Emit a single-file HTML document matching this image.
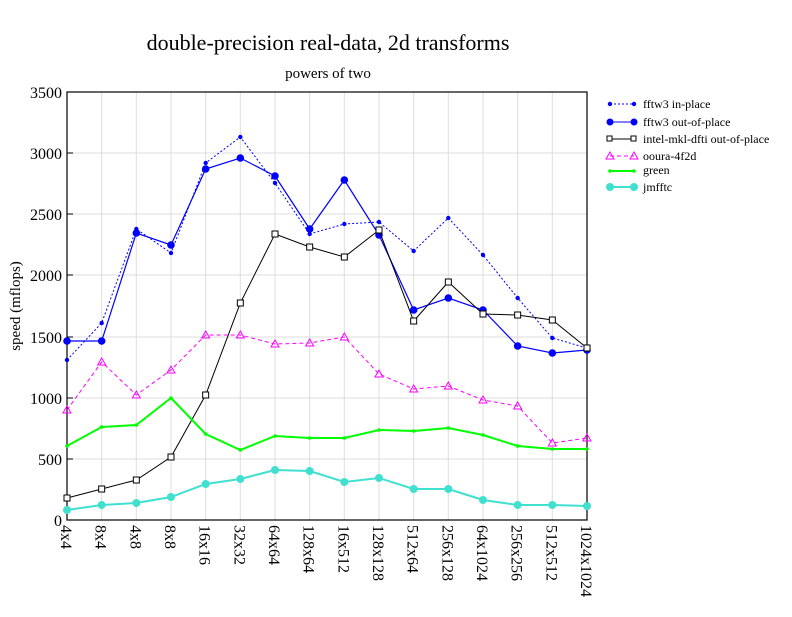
<!DOCTYPE html><html><head><style>body{margin:0;background:#fff}svg{font-family:"Liberation Serif",serif}</style></head><body>
<svg width="792" height="612" xmlns="http://www.w3.org/2000/svg">
<text x="328" y="50" font-size="22" text-anchor="middle">double-precision real-data, 2d transforms</text>
<text x="328" y="78" font-size="15" text-anchor="middle">powers of two</text>
<g stroke="#ddd" stroke-width="1">
<line x1="67" y1="459" x2="587" y2="459"/><line x1="67" y1="398" x2="587" y2="398"/><line x1="67" y1="337" x2="587" y2="337"/><line x1="67" y1="275" x2="587" y2="275"/><line x1="67" y1="214" x2="587" y2="214"/><line x1="67" y1="153" x2="587" y2="153"/>
<line x1="101.7" y1="92" x2="101.7" y2="520"/><line x1="136.3" y1="92" x2="136.3" y2="520"/><line x1="171" y1="92" x2="171" y2="520"/><line x1="205.7" y1="92" x2="205.7" y2="520"/><line x1="240.3" y1="92" x2="240.3" y2="520"/><line x1="275" y1="92" x2="275" y2="520"/><line x1="309.7" y1="92" x2="309.7" y2="520"/><line x1="344.3" y1="92" x2="344.3" y2="520"/><line x1="379" y1="92" x2="379" y2="520"/><line x1="413.7" y1="92" x2="413.7" y2="520"/><line x1="448.3" y1="92" x2="448.3" y2="520"/><line x1="483" y1="92" x2="483" y2="520"/><line x1="517.7" y1="92" x2="517.7" y2="520"/><line x1="552.3" y1="92" x2="552.3" y2="520"/>
</g>
<rect x="67" y="92" width="520" height="428" fill="none" stroke="#000" stroke-width="1.2"/>
<g font-size="16" text-anchor="end">
<text x="62" y="526">0</text><text x="62" y="465">500</text><text x="62" y="404">1000</text><text x="62" y="343">1500</text><text x="62" y="281">2000</text><text x="62" y="220">2500</text><text x="62" y="159">3000</text><text x="62" y="98">3500</text></g>
<g stroke="#000"><line x1="67" y1="459" x2="73" y2="459"/><line x1="67" y1="398" x2="73" y2="398"/><line x1="67" y1="337" x2="73" y2="337"/><line x1="67" y1="275" x2="73" y2="275"/><line x1="67" y1="214" x2="73" y2="214"/><line x1="67" y1="153" x2="73" y2="153"/></g>
<text transform="translate(20,306) rotate(-90)" font-size="15" text-anchor="middle">speed (mflops)</text>
<g font-size="16" id="xl"></g>
<g id="series"></g>
<g font-size="12">
<line x1="610" y1="104" x2="634" y2="104" stroke="#00f" stroke-dasharray="2,2"/><circle cx="610" cy="104" r="2.2" fill="#00f"/><circle cx="634" cy="104" r="2.2" fill="#00f"/><text x="643" y="108">fftw3 in-place</text>
<line x1="610" y1="122" x2="634" y2="122" stroke="#00f"/><circle cx="610" cy="122" r="3.5" fill="#00f"/><circle cx="634" cy="122" r="3.5" fill="#00f"/><text x="643" y="126">fftw3 out-of-place</text>
<line x1="610" y1="139" x2="634" y2="139" stroke="#000"/><rect x="607" y="136" width="5" height="5" fill="#fff" stroke="#000"/><rect x="631" y="136" width="5" height="5" fill="#fff" stroke="#000"/><text x="643" y="143">intel-mkl-dfti out-of-place</text>
<line x1="610" y1="156" x2="634" y2="156" stroke="#f0f" stroke-dasharray="4,3"/><text x="643" y="160">ooura-4f2d</text>
<line x1="610" y1="171" x2="634" y2="171" stroke="#0f0" stroke-width="2"/><circle cx="610" cy="171" r="1.8" fill="#0f0"/><circle cx="634" cy="171" r="1.8" fill="#0f0"/><text x="643" y="174">green</text>
<line x1="610" y1="187" x2="634" y2="187" stroke="#40e0d0" stroke-width="2"/><circle cx="610" cy="187" r="4" fill="#40e0d0"/><circle cx="634" cy="187" r="4" fill="#40e0d0"/><text x="643" y="191">jmfftc</text>
</g>
</svg>
<script>
const labs=["4x4","8x4","4x8","8x8","16x16","32x32","64x64","128x64","16x512","128x128","512x64","256x128","64x1024","256x256","512x512","1024x1024"];
const X=i=>67+i*520/15;const ns="http://www.w3.org/2000/svg";
const xl=document.getElementById("xl");
labs.forEach((l,i)=>{const t=document.createElementNS(ns,"text");t.setAttribute("transform",`translate(${X(i)-6},525) rotate(90)`);t.textContent=l;xl.appendChild(t);});
const S=[
{c:"#00f",d:"2,2",w:1,m:"c",r:2.2,y:[360,323,229,253,163,137,183,234,224,222,251,218,255,298,338,348]},
{c:"#00f",d:"",w:1.2,m:"c",r:3.8,y:[341,341,233,245,169,158,176,229,180,235,310,298,310,346,353,350]},
{c:"#000",d:"",w:1,m:"s",y:[498,489,480,457,395,303,234,247,257,230,321,282,314,315,320,348]},
{c:"#f0f",d:"4,3",w:1,m:"t",y:[410,362,395,370,335,335,344,343,337,374,389,386,400,406,443,438]},
{c:"#0f0",d:"",w:2,m:"c",r:1.8,y:[446,427,425,398,434,450,436,438,438,430,431,428,435,446,449,449]},
{c:"#40e0d0",d:"",w:2,m:"c",r:4,y:[510,505,503,497,484,479,470,471,482,478,489,489,500,505,505,506]}];
const g=document.getElementById("series");
const mk=(tag,a)=>{const e=document.createElementNS(ns,tag);for(const k in a)e.setAttribute(k,a[k]);g.appendChild(e);};
S.forEach(s=>{mk("polyline",{points:s.y.map((y,i)=>X(i)+","+y).join(" "),fill:"none",stroke:s.c,"stroke-width":s.w,"stroke-dasharray":s.d});
s.y.forEach((y,i)=>{const x=X(i);if(s.m=="c")mk("circle",{cx:x,cy:y,r:s.r,fill:s.c});else if(s.m=="s")mk("rect",{x:x-3,y:y-3,width:6,height:6,fill:"#fff",stroke:"#000"});else mk("polygon",{points:`${x},${y-4} ${x-4},${y+3} ${x+4},${y+3}`,fill:"none",stroke:"#f0f"});});});
const lg=document.querySelector("g[font-size='12']");
[610,634].forEach(x=>{const p=document.createElementNS(ns,"polygon");p.setAttribute("points",`${x},152 ${x-4},159 ${x+4},159`);p.setAttribute("fill","none");p.setAttribute("stroke","#f0f");lg.appendChild(p);});
</script>
</body></html>
